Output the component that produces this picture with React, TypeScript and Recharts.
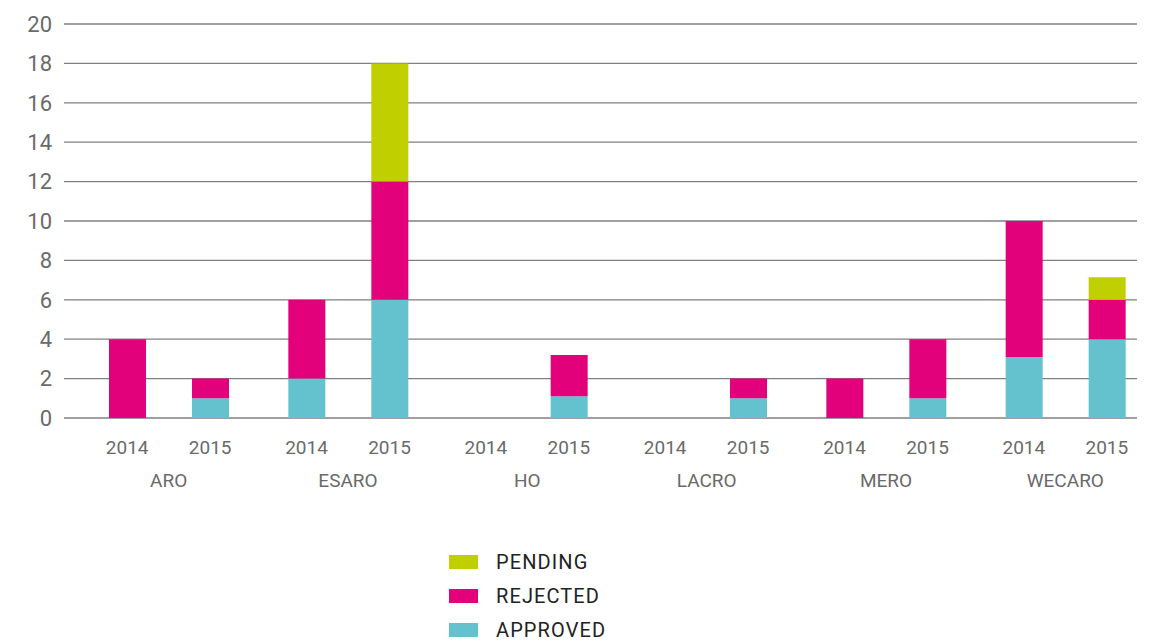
import { Bar, BarChart, CartesianGrid, XAxis, YAxis } from 'recharts';

const regions = ['ARO', 'ESARO', 'HO', 'LACRO', 'MERO', 'WECARO'];
const years = ['2014', '2015'];

// values, one per region
const approved2014 = [0, 2, 0, 0, 0, 3.1];
const rejected2014 = [4, 4, 0, 0, 2, 6.9];
const pending2014 = [0, 0, 0, 0, 0, 0];
const approved2015 = [1, 6, 1.1, 1, 1, 4];
const rejected2015 = [1, 6, 2.1, 1, 3, 2];
const pending2015 = [0, 6, 0, 0, 0, 1.15];

const yTicks = [0, 2, 4, 6, 8, 10, 12, 14, 16, 18, 20];

const COLORS = {
	pending: '#c0cf00',
	rejected: '#e3007b',
	approved: '#63c2ce',
};

const legendItems = [
	{ name: 'PENDING', color: COLORS.pending },
	{ name: 'REJECTED', color: COLORS.rejected },
	{ name: 'APPROVED', color: COLORS.approved },
];

const data = regions.map((region, i) => ({
	region,
	approved2014: approved2014[i],
	rejected2014: rejected2014[i],
	pending2014: pending2014[i],
	approved2015: approved2015[i],
	rejected2015: rejected2015[i],
	pending2015: pending2015[i],
}));

const FONT = 'Roboto, "Noto Sans", sans-serif';
const BAR_SIZE = 37;
const BAR_GAP = 46;

// year labels under each bar plus the region label below them
const RegionTick = (props: any) => {
	const { x, y, payload } = props;
	const half = (BAR_SIZE + BAR_GAP) / 2;
	return (
		<g fontFamily={FONT} fontSize={19} fill='#6a6a6a'>
			<text x={x - half} y={y} dy={28} textAnchor='middle'>
				{years[0]}
			</text>
			<text x={x + half} y={y} dy={28} textAnchor='middle'>
				{years[1]}
			</text>
			<text x={x} y={y} dy={61} textAnchor='middle'>
				{payload.value}
			</text>
		</g>
	);
};

const gridLine = (p: any) => (
	<line
		key={p.key ?? `h-${p.index}`}
		x1={p.x1}
		y1={p.y1}
		x2={p.x2 - 18}
		y2={p.y2}
		stroke='#808080'
		strokeWidth={1.3}
	/>
);

const App = () => {
	return (
		<div style={{ position: 'relative', width: 1157, height: 640 }}>
			<style>{'body{margin:0}'}</style>
			<BarChart
				width={1157}
				height={640}
				data={data}
				margin={{ top: 24, right: 2, left: 0, bottom: 142 }}
				barSize={BAR_SIZE}
				barGap={BAR_GAP}
			>
				<CartesianGrid vertical={false} horizontal={gridLine} />
				<XAxis
					dataKey='region'
					height={80}
					padding={{ left: 15, right: 0 }}
					axisLine={false}
					tickLine={false}
					tickSize={8}
					tickMargin={0}
					interval={0}
					tick={<RegionTick />}
				/>
				<YAxis
					width={64}
					domain={[0, 20]}
					ticks={yTicks}
					interval={0}
					axisLine={false}
					tickLine={false}
					tickMargin={6}
					tick={{ fill: '#6a6a6a', fontSize: 22, fontFamily: FONT }}
				/>
				<Bar dataKey='approved2014' stackId='y2014' fill={COLORS.approved} isAnimationActive={false} />
				<Bar dataKey='rejected2014' stackId='y2014' fill={COLORS.rejected} isAnimationActive={false} />
				<Bar dataKey='pending2014' stackId='y2014' fill={COLORS.pending} isAnimationActive={false} />
				<Bar dataKey='approved2015' stackId='y2015' fill={COLORS.approved} isAnimationActive={false} />
				<Bar dataKey='rejected2015' stackId='y2015' fill={COLORS.rejected} isAnimationActive={false} />
				<Bar dataKey='pending2015' stackId='y2015' fill={COLORS.pending} isAnimationActive={false} />
			</BarChart>
			<div style={{ position: 'absolute', left: 449, top: 545, fontFamily: FONT }}>
				{legendItems.map((item) => (
					<div
						key={item.name}
						style={{ display: 'flex', alignItems: 'center', height: 34 }}
					>
						<span
							style={{
								display: 'inline-block',
								width: 29,
								height: 14,
								background: item.color,
								marginRight: 18,
							}}
						/>
						<span style={{ fontSize: 20, color: '#222', letterSpacing: 1.1 }}>
							{item.name}
						</span>
					</div>
				))}
			</div>
		</div>
	);
};

export default App;
